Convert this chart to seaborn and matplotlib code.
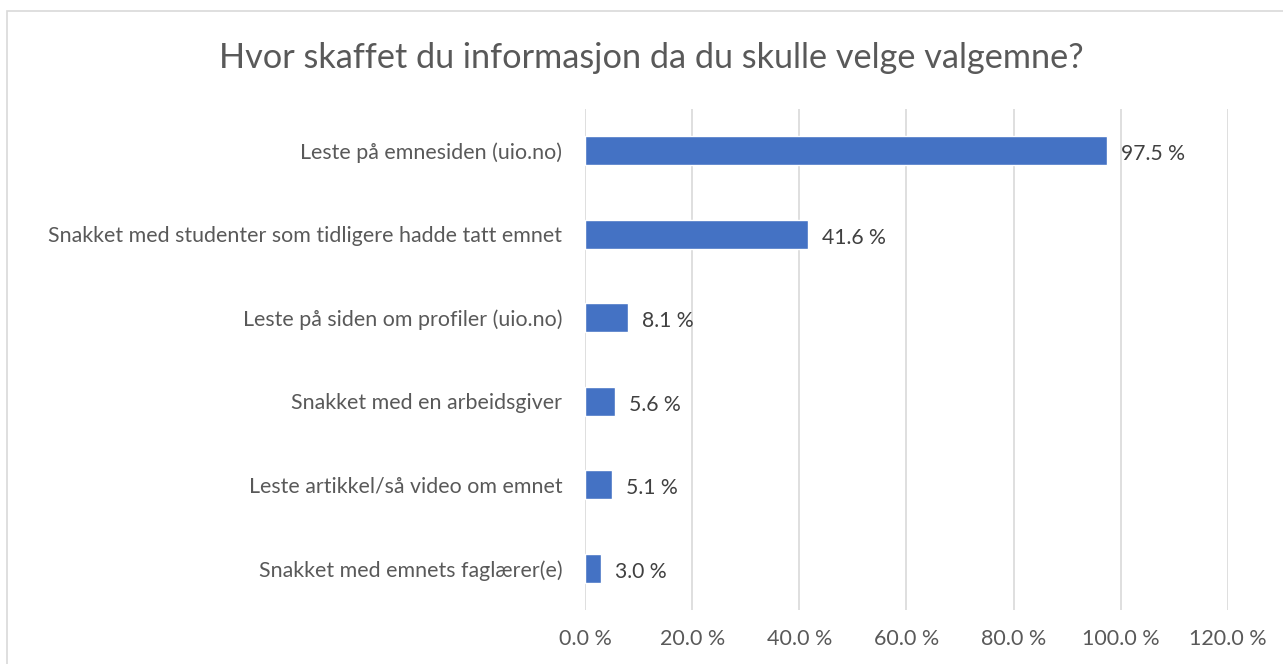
import matplotlib
matplotlib.use("Agg")
import matplotlib.pyplot as plt
import seaborn as sns
import pandas as pd
from matplotlib.patches import Rectangle
from matplotlib.ticker import FuncFormatter

categories = [
    "Leste på emnesiden (uio.no)",
    "Snakket med studenter som tidligere hadde tatt emnet",
    "Leste på siden om profiler (uio.no)",
    "Snakket med en arbeidsgiver",
    "Leste artikkel/så video om emnet",
    "Snakket med emnets faglærer(e)",
]
values = [97.5, 41.6, 8.1, 5.6, 5.1, 3.0]
xticks = [0, 20, 40, 60, 80, 100, 120]
title = "Hvor skaffet du informasjon da du skulle velge valgemne?"

sns.set_theme(style="white")
plt.rcParams["font.family"] = ["Lato", "DejaVu Sans"]

df = pd.DataFrame({"cat": categories, "val": values})

fig = plt.figure(figsize=(12.83, 6.64), dpi=100)
ax = fig.add_axes([0.456, 0.0813, 0.957 - 0.456, 0.836 - 0.0813])

sns.barplot(data=df, x="val", y="cat", orient="h", color="#4472C4",
            saturation=1, width=0.35, ax=ax, zorder=3)

ax.set_xlim(0, 120)
ax.set_xticks(xticks)
ax.xaxis.set_major_formatter(FuncFormatter(lambda v, p: f"{v:.1f} %"))
ax.grid(axis="x", color="#D9D9D9", linewidth=1.2, zorder=0)
ax.set_axisbelow(True)
for s in ax.spines.values():
    s.set_visible(False)
ax.set_xlabel("")
ax.set_ylabel("")
ax.tick_params(axis="x", colors="#595959", labelsize=15.5, length=0, pad=14)
ax.tick_params(axis="y", colors="#595959", labelsize=15.4, length=0, pad=16.5)

for i, v in enumerate(values):
    ax.text(v + 2.6, i + 0.04, f"{v:.1f} %", va="center", ha="left",
            fontsize=15.2, color="#404040")

fig.text(0.508, 0.912, title, ha="center", va="center", fontsize=24.7,
         color="#595959")

fig.patches.append(Rectangle((7 / 1283, -0.1), 1.2, 1 - 11 / 664 + 0.1,
                             transform=fig.transFigure, fill=False,
                             edgecolor="#D9D9D9", linewidth=1.2))

fig.savefig("out.png", dpi=100)
